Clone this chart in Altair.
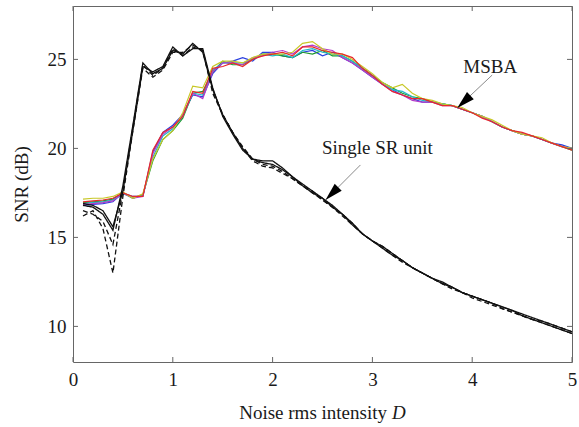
import altair as alt
import pandas as pd

D = [0.1, 0.2, 0.3, 0.4, 0.5, 0.6, 0.7, 0.8, 0.9, 1.0,
     1.1, 1.2, 1.3, 1.4, 1.5, 1.6, 1.7, 1.8, 1.9, 2.0,
     2.1, 2.2, 2.3, 2.4, 2.5, 2.6, 2.7, 2.8, 2.9, 3.0,
     3.1, 3.2, 3.3, 3.4, 3.5, 3.6, 3.7, 3.8, 3.9, 4.0,
     4.1, 4.2, 4.3, 4.4, 4.5, 4.6, 4.7, 4.8, 4.9, 5.0]

msba_blue = [16.8, 16.85, 16.9, 17.0, 17.5, 17.3, 17.3, 19.8, 20.9, 21.3, 21.9, 23.0, 22.9, 24.2, 24.8, 24.9, 25.1, 24.9, 25.4, 25.4, 25.2, 25.1, 25.4, 25.5, 25.2, 25.4, 25.1, 24.8, 24.4, 24.0, 23.6, 23.3, 23.0, 22.8, 22.6, 22.6, 22.5, 22.4, 22.2, 22.0, 21.8, 21.5, 21.2, 21.0, 20.8, 20.7, 20.5, 20.3, 20.2, 20.0]
msba_green = [16.95, 17.0, 17.05, 17.15, 17.5, 17.2, 17.4, 19.3, 20.5, 21.0, 21.7, 23.1, 23.2, 24.3, 24.9, 24.7, 24.7, 25.0, 25.3, 25.3, 25.2, 25.1, 25.4, 25.3, 25.5, 25.2, 25.2, 24.9, 24.5, 24.1, 23.7, 23.4, 23.1, 22.9, 22.8, 22.6, 22.5, 22.4, 22.2, 22.0, 21.8, 21.5, 21.2, 21.0, 20.8, 20.7, 20.5, 20.3, 20.1, 19.9]
msba_red = [17.0, 17.05, 17.1, 17.2, 17.5, 17.3, 17.3, 19.9, 20.9, 21.2, 21.8, 23.2, 23.1, 24.5, 24.6, 24.8, 24.6, 25.0, 25.2, 25.3, 25.4, 25.2, 25.7, 25.7, 25.5, 25.4, 25.3, 25.1, 24.5, 24.1, 23.6, 23.2, 23.0, 22.8, 22.8, 22.6, 22.4, 22.4, 22.2, 22.0, 21.7, 21.5, 21.2, 21.0, 20.9, 20.7, 20.5, 20.3, 20.1, 19.9]
msba_cyan = [16.9, 16.95, 17.0, 17.1, 17.45, 17.25, 17.35, 19.5, 20.7, 21.1, 21.8, 23.1, 23.0, 24.4, 24.8, 24.8, 24.8, 25.0, 25.3, 25.2, 25.3, 25.1, 25.5, 25.6, 25.4, 25.3, 25.2, 24.9, 24.5, 24.1, 23.6, 23.3, 23.2, 22.9, 22.7, 22.6, 22.5, 22.4, 22.2, 22.0, 21.8, 21.5, 21.2, 21.0, 20.8, 20.7, 20.5, 20.3, 20.1, 20.0]
msba_magenta = [16.85, 16.9, 16.95, 17.05, 17.5, 17.2, 17.3, 19.7, 20.8, 21.2, 21.9, 23.1, 22.8, 24.3, 24.8, 24.8, 24.7, 25.1, 25.2, 25.4, 25.5, 25.3, 25.7, 25.8, 25.6, 25.5, 25.1, 24.8, 24.4, 24.0, 23.6, 23.2, 23.0, 22.7, 22.6, 22.6, 22.4, 22.4, 22.2, 22.0, 21.8, 21.5, 21.2, 21.0, 20.8, 20.7, 20.5, 20.3, 20.1, 20.0]
msba_yellow = [17.15, 17.2, 17.2, 17.3, 17.55, 17.2, 17.45, 19.4, 20.5, 21.0, 22.0, 23.5, 23.4, 24.6, 24.9, 24.9, 24.8, 25.1, 25.3, 25.3, 25.3, 25.4, 25.9, 26.0, 25.6, 25.3, 25.3, 25.0, 24.6, 24.2, 23.7, 23.4, 23.6, 23.1, 22.8, 22.7, 22.5, 22.4, 22.3, 22.0, 21.8, 21.6, 21.3, 21.0, 20.8, 20.7, 20.6, 20.3, 20.1, 20.0]

sr_solid_1 = [16.8, 16.7, 16.3, 15.4, 17.9, 21.3, 24.8, 24.2, 24.5, 25.5, 25.3, 25.9, 25.4, 23.3, 21.9, 20.9, 20.0, 19.4, 19.3, 19.3, 18.9, 18.4, 18.0, 17.6, 17.2, 16.8, 16.3, 15.8, 15.2, 14.8, 14.5, 14.1, 13.7, 13.3, 13.0, 12.7, 12.4, 12.2, 11.9, 11.7, 11.5, 11.3, 11.1, 10.9, 10.7, 10.5, 10.3, 10.1, 9.9, 9.7]
sr_solid_2 = [16.9, 16.8, 16.5, 15.6, 17.6, 21.0, 24.6, 24.3, 24.6, 25.7, 25.2, 25.6, 25.6, 23.4, 21.8, 20.8, 19.9, 19.4, 19.2, 19.1, 18.8, 18.4, 17.9, 17.5, 17.2, 16.7, 16.3, 15.7, 15.2, 14.8, 14.4, 14.0, 13.7, 13.3, 13.0, 12.7, 12.5, 12.2, 11.9, 11.7, 11.5, 11.3, 11.1, 10.9, 10.6, 10.4, 10.2, 10.0, 9.8, 9.6]
sr_dashed_1 = [16.2, 16.5, 15.5, 13.0, 17.3, 21.0, 24.5, 24.0, 24.4, 25.4, 25.4, 25.8, 25.5, 23.3, 21.9, 20.9, 20.0, 19.3, 19.0, 18.9, 18.6, 18.3, 17.9, 17.5, 17.1, 16.7, 16.2, 15.7, 15.2, 14.8, 14.4, 14.0, 13.6, 13.3, 13.0, 12.7, 12.4, 12.1, 11.9, 11.6, 11.4, 11.2, 11.0, 10.8, 10.6, 10.4, 10.2, 10.0, 9.8, 9.6]
sr_dashed_2 = [16.5, 16.3, 15.9, 14.6, 17.6, 21.2, 24.7, 24.1, 24.5, 25.6, 25.2, 25.7, 25.5, 23.1, 21.9, 20.9, 20.1, 19.4, 19.1, 19.0, 18.7, 18.3, 17.9, 17.6, 17.1, 16.7, 16.3, 15.8, 15.2, 14.8, 14.5, 14.1, 13.7, 13.3, 13.0, 12.7, 12.4, 12.2, 11.9, 11.7, 11.5, 11.3, 11.0, 10.8, 10.6, 10.4, 10.3, 10.1, 9.9, 9.7]

x_tick_values = [0, 1, 2, 3, 4, 5]
y_tick_values = [10, 15, 20, 25]

ann_labels = ["MSBA", "Single SR unit"]
ann_text_x = [4.18, 3.05]
ann_text_y = [24.57, 20.02]
arrow_from_x = [4.2, 2.88]
arrow_from_y = [24.12, 19.07]
arrow_to_x = [3.85, 2.53]
arrow_to_y = [22.27, 17.1]
arrow_angle = [227, 225]

FONT = "Liberation Serif"
W, H = 499, 356

msba = {
    "blue": ("#2a3fe0", msba_blue),
    "green": ("#1f9a2e", msba_green),
    "cyan": ("#22b8c8", msba_cyan),
    "magenta": ("#b43cc8", msba_magenta),
    "yellow": ("#c8c828", msba_yellow),
    "red": ("#e8282a", msba_red),
}
rows = []
for name, (col, vals) in msba.items():
    for d, v in zip(D, vals):
        rows.append({"series": name, "D": d, "SNR": v})
msba_df = pd.DataFrame(rows)

sr = {"s1": ("solid", sr_solid_1), "s2": ("solid", sr_solid_2),
      "d1": ("dashed", sr_dashed_1), "d2": ("dashed", sr_dashed_2)}
rows = []
for name, (kind, vals) in sr.items():
    for d, v in zip(D, vals):
        rows.append({"series": name, "kind": kind, "D": d, "SNR": v})
sr_df = pd.DataFrame(rows)

xs = alt.Scale(domain=[0, 5], nice=False, zero=False)
ys = alt.Scale(domain=[8, 28], nice=False, zero=False)

x_axis = alt.Axis(values=x_tick_values, format="d", title=None, labelFont=FONT, labelFontSize=19,
                  labelColor="#1a1a1a", labelPadding=8, ticks=False, tickSize=0,
                  domain=False, grid=False, labelFlush=False)
y_axis = alt.Axis(values=y_tick_values, format="d", title="SNR (dB)", labelFont=FONT, labelFontSize=19,
                  labelColor="#1a1a1a", labelPadding=7, ticks=False, tickSize=0,
                  domain=False, grid=False, titleFont=FONT, titleFontSize=19,
                  titleFontWeight="normal", titleColor="#1a1a1a",
                  titleX=-52, titleY=H / 2, titleAngle=270, titleAlign="center",
                  titleBaseline="middle")

msba_lines = alt.Chart(msba_df).mark_line(strokeWidth=1.2).encode(
    x=alt.X("D:Q", scale=xs, axis=x_axis),
    y=alt.Y("SNR:Q", scale=ys, axis=y_axis),
    color=alt.Color("series:N", scale=alt.Scale(domain=list(msba.keys()),
                    range=[c for c, _ in msba.values()]), legend=None),
    detail="series:N",
)

sr_lines = alt.Chart(sr_df).mark_line(strokeWidth=1.3, color="#111111").encode(
    x=alt.X("D:Q", scale=xs),
    y=alt.Y("SNR:Q", scale=ys),
    strokeDash=alt.StrokeDash("kind:N", scale=alt.Scale(domain=["solid", "dashed"],
                              range=[[1, 0], [5, 3]]), legend=None),
    detail="series:N",
)

xt = pd.DataFrame({"v": x_tick_values})
yt = pd.DataFrame({"v": y_tick_values})
tick_style = dict(color="#666666", strokeWidth=1)
ticks = [
    alt.Chart(xt).mark_rule(**tick_style).encode(x=alt.X("v:Q", scale=xs), y=alt.value(H), y2=alt.value(H - 5)),
    alt.Chart(xt).mark_rule(**tick_style).encode(x=alt.X("v:Q", scale=xs), y=alt.value(0), y2=alt.value(5)),
    alt.Chart(yt).mark_rule(**tick_style).encode(y=alt.Y("v:Q", scale=ys), x=alt.value(0), x2=alt.value(5)),
    alt.Chart(yt).mark_rule(**tick_style).encode(y=alt.Y("v:Q", scale=ys), x=alt.value(W), x2=alt.value(W - 5)),
]

ann_df = pd.DataFrame({"label": ann_labels, "tx": ann_text_x, "ty": ann_text_y,
                       "x0": arrow_from_x, "y0": arrow_from_y,
                       "x1": arrow_to_x, "y1": arrow_to_y, "ang": arrow_angle})

ann_text = alt.Chart(ann_df).mark_text(font=FONT, fontSize=19, color="#1a1a1a",
                                       align="center", baseline="middle").encode(
    x=alt.X("tx:Q", scale=xs), y=alt.Y("ty:Q", scale=ys), text="label:N")
ann_line = alt.Chart(ann_df).mark_rule(color="#8a8a8a", strokeWidth=1).encode(
    x=alt.X("x0:Q", scale=xs), y=alt.Y("y0:Q", scale=ys),
    x2="x1:Q", y2="y1:Q")
ann_head = alt.Chart(ann_df).mark_point(
    shape="M 0 0 L 0.55 2 L -0.55 2 Z", filled=True, color="#000000", opacity=1,
    size=324, strokeWidth=0).encode(
    x=alt.X("x1:Q", scale=xs), y=alt.Y("y1:Q", scale=ys),
    angle=alt.Angle("ang:Q", scale=None))

title_main = alt.Chart(ann_df.head(1)).mark_text(
    text="Noise rms intensity", font=FONT, fontSize=19, color="#1a1a1a",
    align="right", baseline="middle").encode(x=alt.value(314), y=alt.value(407))
title_d = alt.Chart(ann_df.head(1)).mark_text(
    text="D", font=FONT, fontSize=19, fontStyle="italic", color="#1a1a1a",
    align="left", baseline="middle").encode(x=alt.value(319), y=alt.value(407))

chart = alt.layer(
    msba_lines, sr_lines, *ticks, ann_line, ann_head, ann_text, title_main, title_d
).properties(
    width=W, height=H,
    padding={"left": 73, "top": 6, "right": 7, "bottom": 65},
    autosize=alt.AutoSizeParams(type="none"),
    background="white",
).configure_view(stroke="#666666", strokeWidth=1)

chart.save("out.html", embed_options={"renderer": "svg", "actions": False})
